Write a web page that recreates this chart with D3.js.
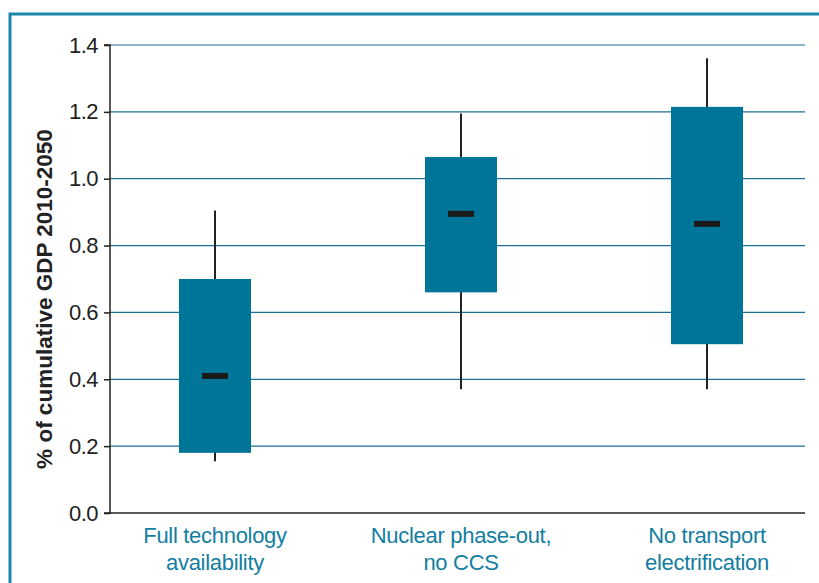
<!DOCTYPE html>
<html><head><meta charset="utf-8">
<script src="https://cdn.jsdelivr.net/npm/d3@7"></script>
<style>body{margin:0;background:#fff;font-family:"Liberation Sans",Arial,sans-serif}</style>
</head><body><div id="chart"></div>
<script>
const categories = [['Full technology', 'availability'], ['Nuclear phase-out,', 'no CCS'], ['No transport', 'electrification']];
const whiskerLow = [0.155, 0.37, 0.37];
const boxLow = [0.18, 0.66, 0.505];
const median = [0.41, 0.895, 0.865];
const boxHigh = [0.70, 1.065, 1.215];
const whiskerHigh = [0.905, 1.195, 1.36];
const yTicks = [0, 0.2, 0.4, 0.6, 0.8, 1.0, 1.2, 1.4];

const W = 819, H = 583, teal = '#00759a';
const svg = d3.select('#chart').append('svg').attr('width', W).attr('height', H);

// frame
svg.append('rect').attr('x', 10).attr('y', 14).attr('width', W + 10).attr('height', H + 10)
  .attr('fill', 'none').attr('stroke', '#1a86a8').attr('stroke-width', 3);

const y = d3.scaleLinear().domain([0, 1.4]).range([513, 45]);
const x = d3.scalePoint().domain(d3.range(categories.length)).range([215, 707]);
const left = 110, right = 805;

const g = svg.append('g');
g.selectAll('.grid').data(yTicks.slice(1)).enter().append('line')
  .attr('x1', left).attr('x2', right).attr('y1', d => y(d)).attr('y2', d => y(d))
  .attr('stroke', '#1f6f92').attr('stroke-width', 1.2);

const yAxis = g.append('g').attr('transform', `translate(${left},0)`)
  .call(d3.axisLeft(y).tickValues(yTicks).tickFormat(d3.format('.1f')).tickSize(6).tickPadding(6));
yAxis.select('.domain').attr('stroke', '#222').attr('stroke-width', 1.5).attr('d', `M-6,${y(1.4)}H0V${y(0)}H-6`);
yAxis.selectAll('.tick line').attr('stroke', '#222').attr('stroke-width', 1.5);
yAxis.selectAll('.tick text').attr('font-size', 22).attr('fill', '#222').attr('letter-spacing', -0.5)
  .attr('font-family', '"Liberation Sans",Arial,sans-serif');

g.append('line').attr('x1', left).attr('x2', right).attr('y1', y(0)).attr('y2', y(0))
  .attr('stroke', '#222').attr('stroke-width', 1.5);

svg.append('text').attr('transform', `translate(52,${(y(0) + y(1.4)) / 2 + 20}) rotate(-90)`)
  .attr('text-anchor', 'middle').attr('font-size', 22.5).attr('font-weight', 'bold').attr('fill', '#222')
  .text('% of cumulative GDP 2010-2050');

const bw = 72;
const idx = d3.range(categories.length);
g.selectAll('.whisker').data(idx).enter().append('line')
  .attr('x1', i => x(i)).attr('x2', i => x(i))
  .attr('y1', i => y(whiskerLow[i])).attr('y2', i => y(whiskerHigh[i]))
  .attr('stroke', '#222').attr('stroke-width', 2);
g.selectAll('.box').data(idx).enter().append('rect')
  .attr('x', i => x(i) - bw / 2).attr('width', bw)
  .attr('y', i => y(boxHigh[i])).attr('height', i => y(boxLow[i]) - y(boxHigh[i]))
  .attr('fill', teal);
g.selectAll('.med').data(idx).enter().append('rect')
  .attr('x', i => x(i) - 13).attr('width', 26)
  .attr('y', i => y(median[i]) - 3).attr('height', 6).attr('fill', '#1a1a1a');

const lab = g.selectAll('.lab').data(idx).enter().append('text')
  .attr('text-anchor', 'middle').attr('font-size', 22).attr('fill', '#137ea0').attr('letter-spacing', -0.3);
lab.append('tspan').attr('x', i => x(i)).attr('y', 543).text(i => categories[i][0]);
lab.append('tspan').attr('x', i => x(i)).attr('y', 570).text(i => categories[i][1]);
</script></body></html>
